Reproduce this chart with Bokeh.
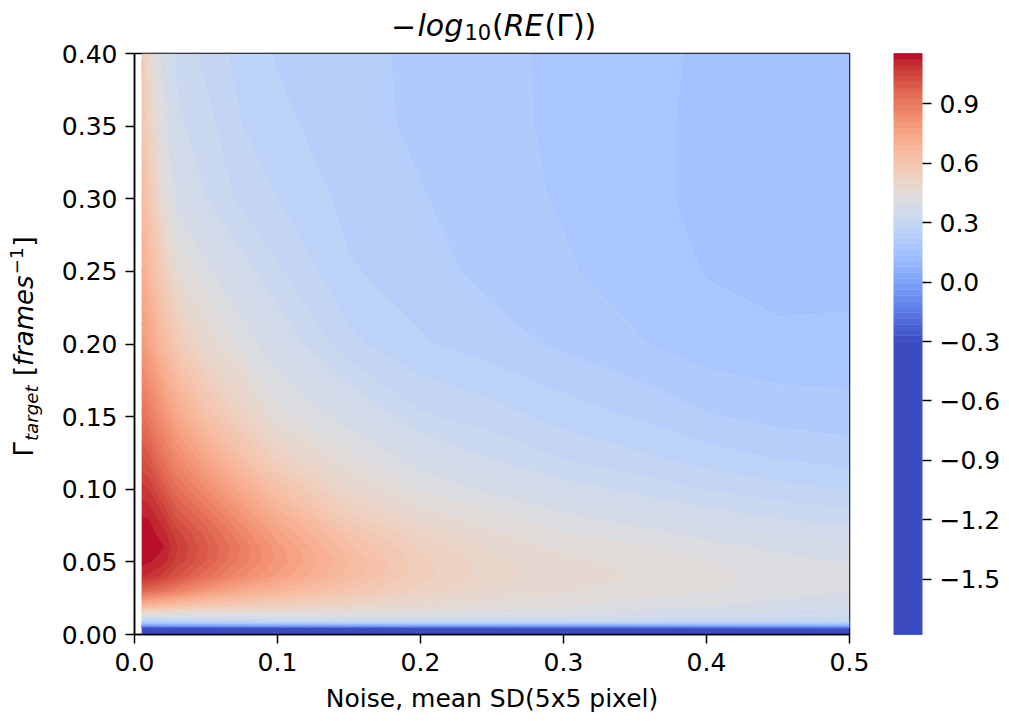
import numpy as np
from bokeh.plotting import figure
from bokeh.layouts import column, row
from bokeh.models import FixedTicker, CustomJSTickFormatter, Range1d
from bokeh.core.properties import value
from bokeh.embed import file_html
from bokeh.resources import INLINE

# ---------------- data ----------------
noise = [0.005, 0.01, 0.02, 0.03, 0.05, 0.075, 0.1, 0.15, 0.2, 0.25, 0.3, 0.35, 0.4, 0.45, 0.5]
gamma = [0.0, 0.002, 0.004, 0.006, 0.008, 0.01, 0.015, 0.02, 0.03, 0.04, 0.05,
         0.06, 0.07, 0.08, 0.1, 0.12, 0.15, 0.2, 0.25, 0.3, 0.35, 0.4]

z_g0000 = [-1.77, -1.75, -1.74, -1.73, -1.72, -1.71, -1.70, -1.69, -1.68, -1.67, -1.66, -1.65, -1.64, -1.63, -1.62]
z_g0002 = [-1.05, -1.04, -1.03, -1.02, -1.00, -0.99, -0.98, -0.97, -0.96, -0.95, -0.94, -0.93, -0.92, -0.90, -0.88]
z_g0004 = [-0.42, -0.42, -0.41, -0.41, -0.40, -0.40, -0.39, -0.38, -0.37, -0.37, -0.36, -0.35, -0.34, -0.32, -0.30]
z_g0006 = [-0.06, -0.06, -0.05, -0.05, -0.04, -0.04, -0.03, -0.02, -0.02, -0.02, -0.02, -0.02, -0.01, 0.00, 0.01]
z_g0008 = [0.17, 0.17, 0.17, 0.18, 0.19, 0.20, 0.21, 0.22, 0.22, 0.22, 0.22, 0.22, 0.21, 0.21, 0.21]
z_g0010 = [0.29, 0.28, 0.28, 0.29, 0.30, 0.31, 0.33, 0.34, 0.34, 0.34, 0.34, 0.33, 0.32, 0.32, 0.31]
z_g0015 = [0.50, 0.48, 0.47, 0.46, 0.45, 0.45, 0.45, 0.44, 0.43, 0.412, 0.399, 0.386, 0.373, 0.360, 0.353]
z_g0020 = [0.70, 0.68, 0.66, 0.63, 0.60, 0.57, 0.55, 0.51, 0.47, 0.445, 0.43, 0.412, 0.399, 0.386, 0.373]
z_g0030 = [0.97, 0.95, 0.92, 0.88, 0.80, 0.73, 0.68, 0.60, 0.53, 0.485, 0.46, 0.445, 0.43, 0.412, 0.399]
z_g0040 = [1.10, 1.09, 1.06, 1.01, 0.93, 0.84, 0.77, 0.65, 0.555, 0.50, 0.47, 0.455, 0.435, 0.419, 0.406]
z_g0050 = [1.135, 1.13, 1.11, 1.06, 0.98, 0.88, 0.80, 0.66, 0.555, 0.495, 0.465, 0.448, 0.428, 0.409, 0.396]
z_g0060 = [1.15, 1.145, 1.13, 1.07, 0.99, 0.89, 0.79, 0.64, 0.54, 0.48, 0.45, 0.433, 0.409, 0.390, 0.377]
z_g0070 = [1.145, 1.14, 1.11, 1.05, 0.97, 0.86, 0.76, 0.61, 0.515, 0.46, 0.43, 0.409, 0.383, 0.364, 0.351]
z_g0080 = [1.13, 1.125, 1.08, 1.01, 0.93, 0.82, 0.72, 0.56, 0.475, 0.44, 0.406, 0.382, 0.357, 0.338, 0.325]
z_g0100 = [1.08, 1.07, 1.00, 0.93, 0.84, 0.73, 0.63, 0.49, 0.425, 0.386, 0.354, 0.330, 0.308, 0.291, 0.279]
z_g0120 = [1.02, 1.00, 0.92, 0.85, 0.75, 0.64, 0.54, 0.44, 0.38, 0.34, 0.31, 0.291, 0.269, 0.253, 0.243]
z_g0150 = [0.93, 0.90, 0.82, 0.74, 0.63, 0.53, 0.44, 0.38, 0.315, 0.295, 0.269, 0.250, 0.226, 0.213, 0.207]
z_g0200 = [0.80, 0.76, 0.66, 0.58, 0.48, 0.419, 0.367, 0.289, 0.256, 0.237, 0.217, 0.198, 0.178, 0.172, 0.174]
z_g0250 = [0.72, 0.67, 0.56, 0.46, 0.406, 0.354, 0.315, 0.256, 0.237, 0.213, 0.198, 0.182, 0.164, 0.155, 0.155]
z_g0300 = [0.66, 0.60, 0.45, 0.38, 0.34, 0.302, 0.282, 0.243, 0.226, 0.204, 0.192, 0.174, 0.159, 0.148, 0.146]
z_g0350 = [0.62, 0.53, 0.412, 0.347, 0.321, 0.282, 0.26, 0.237, 0.217, 0.20, 0.191, 0.174, 0.159, 0.148, 0.147]
z_g0400 = [0.60, 0.47, 0.38, 0.328, 0.302, 0.269, 0.25, 0.233, 0.217, 0.20, 0.19, 0.175, 0.161, 0.152, 0.149]

z_rows = [z_g0000, z_g0002, z_g0004, z_g0006, z_g0008, z_g0010, z_g0015, z_g0020,
          z_g0030, z_g0040, z_g0050, z_g0060, z_g0070, z_g0080, z_g0100, z_g0120,
          z_g0150, z_g0200, z_g0250, z_g0300, z_g0350, z_g0400]
Z = np.array(z_rows)

x_ticks = [0.0, 0.1, 0.2, 0.3, 0.4, 0.5]
y_ticks = [0.0, 0.05, 0.10, 0.15, 0.20, 0.25, 0.30, 0.35, 0.40]
cb_ticks = [-1.5, -1.2, -0.9, -0.6, -0.3, 0.0, 0.3, 0.6, 0.9]

# ---------------- colour map (coolwarm) ----------------
_cw = [(59, 76, 192), (68, 90, 204), (77, 104, 215), (87, 117, 225), (98, 130, 234),
       (108, 142, 241), (119, 154, 247), (130, 165, 251), (141, 176, 254), (152, 185, 255),
       (163, 194, 255), (174, 201, 253), (184, 208, 249), (194, 213, 244), (204, 217, 238),
       (213, 219, 230), (221, 221, 221), (229, 216, 209), (236, 211, 197), (241, 204, 185),
       (245, 196, 173), (247, 187, 160), (247, 177, 148), (247, 166, 135), (244, 154, 123),
       (241, 141, 111), (236, 127, 99), (229, 112, 88), (222, 96, 77), (213, 80, 66),
       (203, 62, 56), (192, 40, 47), (180, 4, 38)]


def coolwarm(t):
    t = min(max(t, 0.0), 1.0) * (len(_cw) - 1)
    i = min(int(t), len(_cw) - 2)
    f = t - i
    c = [round(_cw[i][k] + (_cw[i + 1][k] - _cw[i][k]) * f) for k in range(3)]
    return "#%02x%02x%02x" % tuple(c)


n_bands = 50
levels = [-1.78] + [float(v) for v in np.linspace(-0.30, 1.155, n_bands + 1)]
palette = ["#3b4cc0"] + [coolwarm((i + 0.5) / n_bands) for i in range(n_bands)]
line_palette = [palette[min(i, len(palette) - 1)] for i in range(len(levels))]

FONT = "DejaVu Sans"

# ---------------- page geometry (pixels) ----------------
W, H = 1009, 721
TOP_H = 43          # height of the title strip
LEFT_W = 48         # width of the y-label strip
FL, FR, FT, FB = 134, 849, 53, 634   # frame edges in page pixels

MW, MH = W - LEFT_W, H - TOP_H

p = figure(width=MW, height=MH, x_range=(0, 0.5), y_range=(0, 0.4), title=None,
           output_backend="svg", toolbar_location=None,
           min_border_left=FL - LEFT_W, min_border_right=W - FR,
           min_border_top=FT - TOP_H, min_border_bottom=H - FB)
p.grid.visible = False
p.background_fill_color = "white"
p.border_fill_color = "white"
p.outline_line_color = "black"
p.outline_line_width = 1.5
p.outline_line_alpha = 1.0

cr = p.contour(noise, gamma, Z, levels, fill_color=palette,
               line_color=line_palette, line_width=0.8)

for ax in (p.xaxis[0], p.yaxis[0]):
    ax.axis_line_color = "black"
    ax.axis_line_width = 1.5
    ax.major_tick_line_color = "black"
    ax.major_tick_line_width = 1.5
    ax.major_tick_out = 9
    ax.major_tick_in = 0
    ax.minor_tick_line_color = None
    ax.major_label_text_font = FONT
    ax.major_label_text_font_size = "25px"
    ax.major_label_text_color = "black"
    ax.axis_label_text_font = FONT
    ax.axis_label_text_font_size = "25px"
    ax.axis_label_text_font_style = "normal"
    ax.axis_label_text_color = "black"

p.xaxis.ticker = FixedTicker(ticks=x_ticks)
p.xaxis.formatter = CustomJSTickFormatter(code="return tick.toFixed(1);")
p.xaxis.major_label_standoff = 9
p.xaxis.axis_label = "Noise, mean SD(5x5 pixel)"
p.xaxis.axis_label_standoff = 10
p.yaxis.ticker = FixedTicker(ticks=y_ticks)
p.yaxis.formatter = CustomJSTickFormatter(code="return tick.toFixed(2);")
p.yaxis.major_label_standoff = 8

cb = cr.construct_color_bar(
    width=29, height=FB - FT, location=(44, 0), margin=0, padding=0,
    formatter=CustomJSTickFormatter(code="return tick.toFixed(1).replace('-', '\\u2212');"),
    major_label_text_font=FONT, major_label_text_font_size="25px",
    major_label_text_color="black",
    major_tick_line_color="black", major_tick_line_width=1.5,
    major_tick_out=9, major_tick_in=0, label_standoff=8,
    bar_line_color="black", bar_line_width=1.5,
    border_line_color=None, background_fill_color=None,
)
cb.ticker = FixedTicker(ticks=cb_ticks)
p.add_layout(cb, "right")


def strip(width, height, xr, yr):
    f = figure(width=width, height=height, x_range=Range1d(*xr), y_range=Range1d(*yr),
               title=None, output_backend="svg", toolbar_location=None,
               x_axis_type=None, y_axis_type=None,
               min_border=0, min_border_left=0, min_border_right=0,
               min_border_top=0, min_border_bottom=0)
    f.grid.visible = False
    f.outline_line_color = None
    f.background_fill_color = "white"
    f.border_fill_color = "white"
    return f


BSH = 0.3   # the anchor sits this many em above the wanted baseline


def put(fig, text, x, y, size, style="normal", angle=0.0):
    fig.text(x=[x], y=[y], text=[text], text_font=value(FONT),
             text_font_size=value(f"{size}px"), text_font_style=style,
             text_color="black", text_align="left", text_baseline="alphabetic",
             angle=angle)


# title strip: page pixel coordinates (y downwards)
tfig = strip(W, TOP_H, (0, W), (TOP_H, 0))
tf = 30
tb = 34 - BSH * tf
put(tfig, "\u2212", 390.5, tb, tf)
put(tfig, "log", 417.0, tb, tf, "italic")
put(tfig, "10", 464.0, 37.5 - BSH * 21, 21)
put(tfig, "(", 491.5, tb, tf)
put(tfig, "RE", 503.2, tb, tf, "italic")
put(tfig, "(\u0393))", 544.0, tb, tf)

# y-label strip: its frame lines up with the main frame (page y FT..FB);
# page pixel coordinates (y downwards), text reads upwards
lfig = strip(LEFT_W, MH, (0, LEFT_W), (FB, FT))
lf = 26
sf = 18.2
bx = 31 - BSH * lf
a = np.pi / 2
y0 = 456
put(lfig, "\u0393", bx, y0, lf, angle=a)
y1 = y0 - 0.556 * lf - 1
put(lfig, "target", 36 - BSH * sf, y1, sf, "italic", angle=a)
y2 = y1 - 3.058 * sf - 1 - 0.318 * lf
put(lfig, "[", bx, y2, lf, angle=a)
y3 = y2 - 0.390 * lf
put(lfig, "frames", bx, y3, lf, "italic", angle=a)
y4 = y3 - 3.486 * lf - 1
put(lfig, "\u22121", 21 - BSH * sf, y4, sf, angle=a)
y5 = y4 - 1.474 * sf - 1
put(lfig, "]", bx, y5, lf, angle=a)

layout = column(tfig, row(lfig, p, spacing=0), spacing=0)
open("out.html", "w").write(file_html(layout, INLINE))
